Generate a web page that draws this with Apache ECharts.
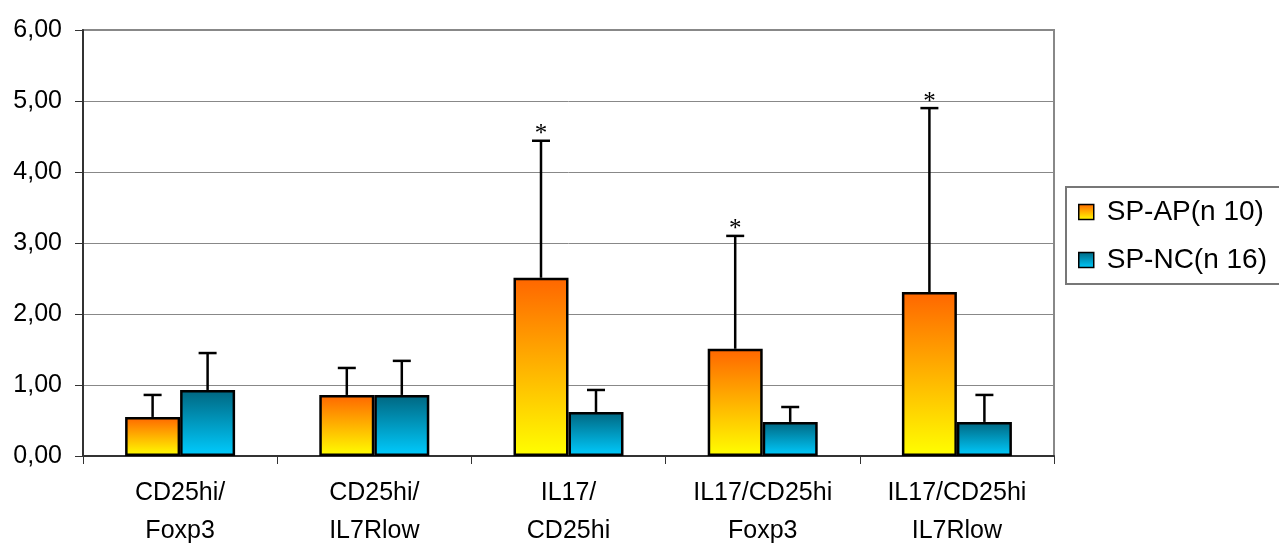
<!DOCTYPE html>
<html>
<head>
<meta charset="utf-8">
<script src="https://cdn.jsdelivr.net/npm/echarts@6/dist/echarts.min.js"></script>
<style>
html,body{margin:0;padding:0;background:#fff;}
#chart{width:1279px;height:543px;}
</style>
</head>
<body>
<div id="chart"></div>
<script>
const categories = ['CD25hi/\nFoxp3', 'CD25hi/\nIL7Rlow', 'IL17/\nCD25hi', 'IL17/CD25hi\nFoxp3', 'IL17/CD25hi\nIL7Rlow'];
const seriesNames = ['SP-AP(n 10)', 'SP-NC(n 16)'];
const apValues = [0.55, 0.86, 2.51, 1.51, 2.31];
const apErrors = [0.31, 0.38, 1.93, 1.59, 2.59];
const apMarks = ['', '', '*', '*', '*'];
const ncValues = [0.93, 0.86, 0.62, 0.48, 0.48];
const ncErrors = [0.52, 0.48, 0.31, 0.21, 0.38];
const ncMarks = ['', '', '', '', ''];
const yTicks = { min: 0, max: 6, interval: 1 };

const FONT = '"Liberation Sans", Arial, sans-serif';
const BAR_W = 55;

const orangeGrad = new echarts.graphic.LinearGradient(0, 0, 0, 1, [
  { offset: 0, color: '#FF6600' }, { offset: 1, color: '#FFFF00' }
]);
const blueGrad = new echarts.graphic.LinearGradient(0, 0, 0, 1, [
  { offset: 0, color: '#006680' }, { offset: 1, color: '#00CCFF' }
]);

function errSeries(values, errors, marks, offset) {
  return {
    type: 'custom',
    z: 5,
    silent: true,
    data: values.map((v, i) => [i, v, errors[i]]),
    encode: { x: 0, y: 1 },
    renderItem: function (params, api) {
      const i = api.value(0), v = api.value(1), sd = api.value(2);
      const base = api.coord([i, v]);
      const top = api.coord([i, v + sd]);
      const cx = base[0] + offset;
      const style = { stroke: '#000', lineWidth: 2.5 };
      const children = [
        { type: 'line', shape: { x1: cx, y1: base[1], x2: cx, y2: top[1] }, style: style },
        { type: 'line', shape: { x1: cx - 9, y1: top[1], x2: cx + 9, y2: top[1] }, style: style }
      ];
      const m = marks[params.dataIndex];
      if (m) {
        children.push({
          type: 'text',
          style: {
            text: m, x: cx, y: top[1] - 6,
            align: 'center', verticalAlign: 'middle',
            font: '25px "Liberation Serif", "Times New Roman", serif',
            fill: '#000'
          }
        });
      }
      return { type: 'group', children: children };
    }
  };
}

const chart = echarts.init(document.getElementById('chart'), null, { renderer: 'canvas' });
chart.setOption({
  animation: false,
  backgroundColor: '#fff',
  grid: {
    left: 83, right: 225, top: 30, bottom: 87,
    outerBoundsMode: 'none', containLabel: false,
    show: true, borderColor: '#888', borderWidth: 2, backgroundColor: 'transparent'
  },
  legend: {
    orient: 'vertical',
    left: 1066, top: 187,
    padding: [10, 30, 9, 12],
    itemWidth: 15, itemHeight: 15, itemGap: 18,
    borderColor: '#777', borderWidth: 2,
    icon: 'rect',
    itemStyle: { borderColor: '#000', borderWidth: 1.5 },
    textStyle: { fontFamily: FONT, fontSize: 28, color: '#000', lineHeight: 30, padding: [0, 0, 0, 8] },
    data: seriesNames
  },
  xAxis: {
    type: 'category',
    data: categories,
    axisLine: { lineStyle: { color: '#333', width: 2 } },
    axisTick: { show: true, length: 8, lineStyle: { color: '#333', width: 1 } },
    axisLabel: { fontFamily: FONT, fontSize: 25, color: '#000', lineHeight: 38, margin: 18, interval: 0 },
    splitLine: { show: false }
  },
  yAxis: {
    type: 'value',
    min: yTicks.min, max: yTicks.max, interval: yTicks.interval,
    axisLine: { show: true, lineStyle: { color: '#333', width: 2 } },
    axisTick: { show: true, length: 8, lineStyle: { color: '#333', width: 1 } },
    axisLabel: {
      fontFamily: FONT, fontSize: 25, color: '#000', margin: 21,
      formatter: v => v.toFixed(2).replace('.', ',')
    },
    splitLine: { lineStyle: { color: '#888', width: 1 } }
  },
  series: [
    {
      name: seriesNames[0], type: 'bar', data: apValues,
      barWidth: BAR_W, barGap: '0%',
      itemStyle: { color: orangeGrad, borderColor: '#000', borderWidth: 2.5 }
    },
    {
      name: seriesNames[1], type: 'bar', data: ncValues,
      barWidth: BAR_W, barGap: '0%',
      itemStyle: { color: blueGrad, borderColor: '#000', borderWidth: 2.5 }
    },
    errSeries(apValues, apErrors, apMarks, -BAR_W / 2),
    errSeries(ncValues, ncErrors, ncMarks, BAR_W / 2)
  ]
});
</script>
</body>
</html>
